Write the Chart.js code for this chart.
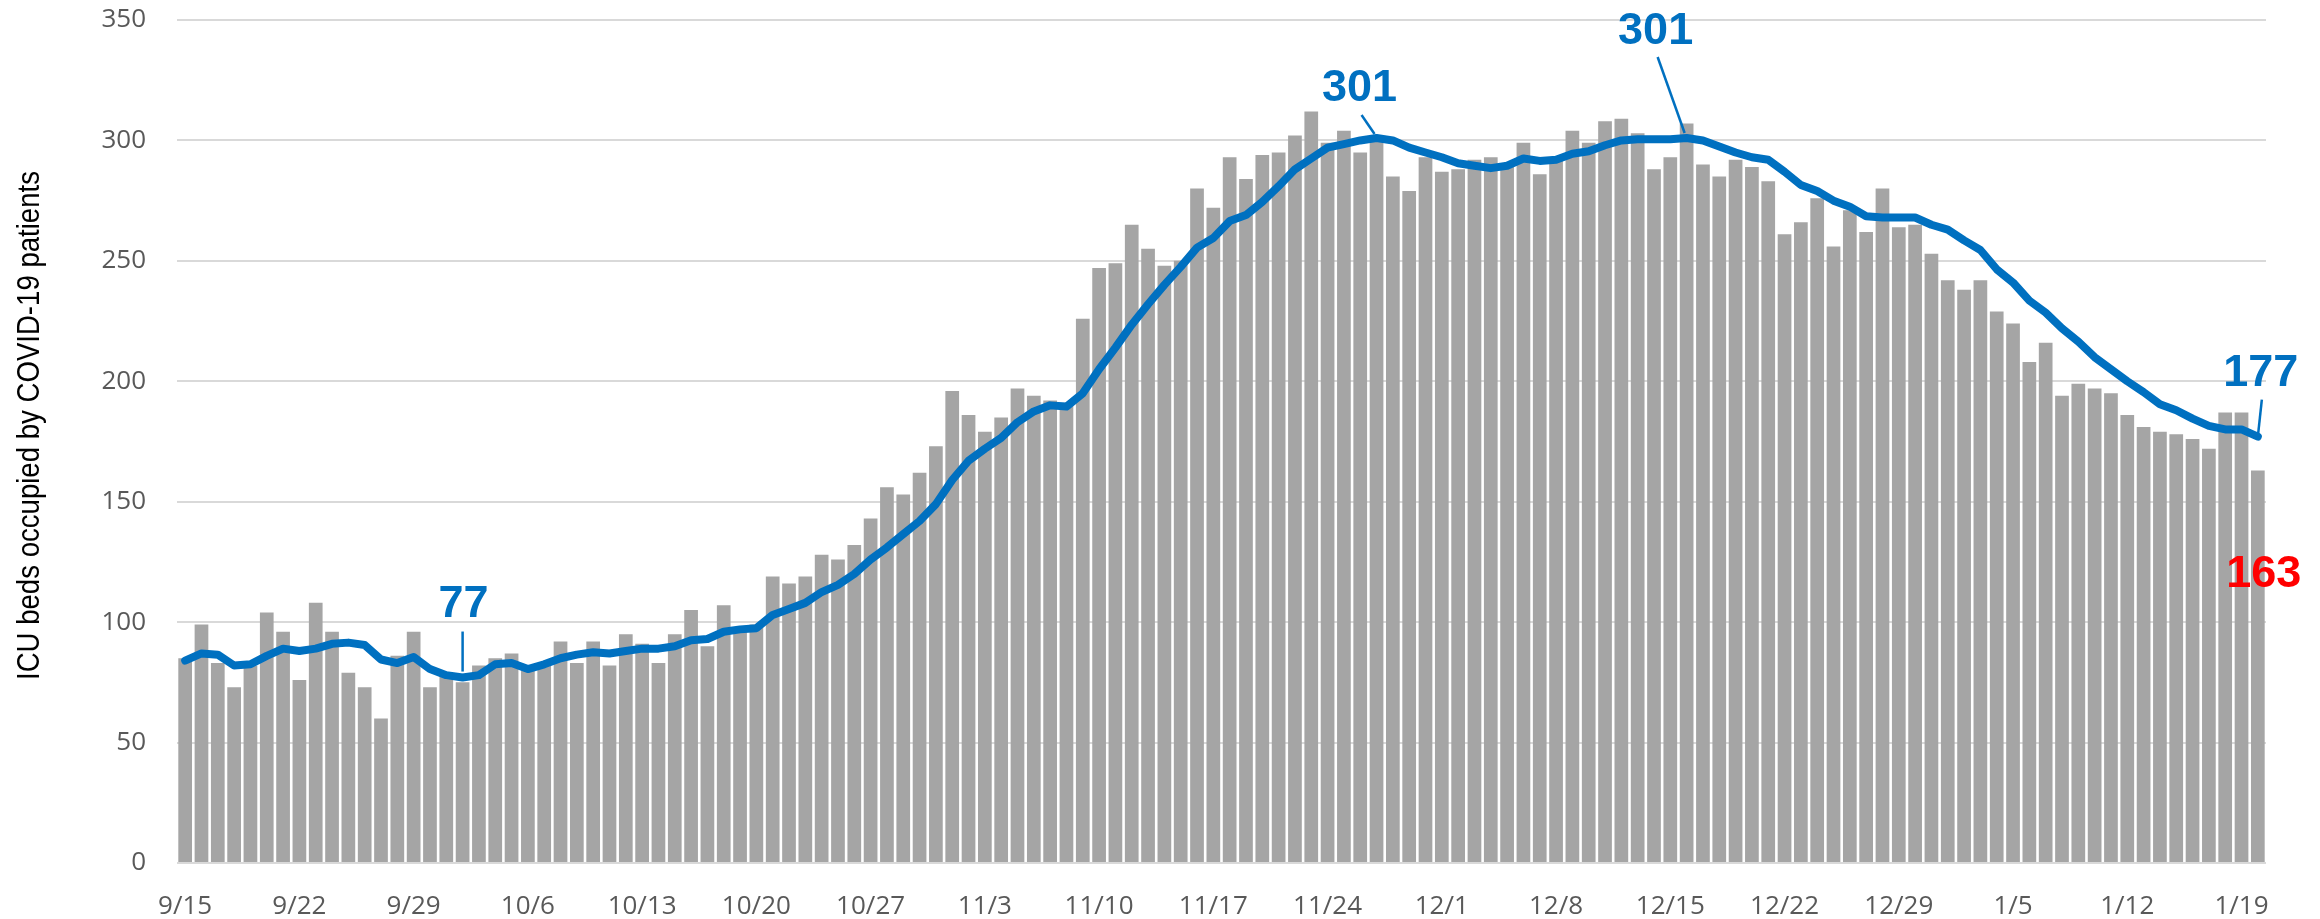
<!DOCTYPE html>
<html>
<head>
<meta charset="utf-8">
<script src="https://cdn.jsdelivr.net/npm/chart.js@4.4.1/dist/chart.umd.min.js"></script>
<style>
  html, body { margin: 0; padding: 0; background: #fff; }
  #wrap { width: 2320px; height: 919px; }
</style>
</head>
<body>
<div id="wrap"><canvas id="icu"></canvas></div>
<script>
// daily ICU census (grey bars) + 7-day average (blue line), 9/15 - 1/20

// one category per day
const DAYS = [];
for (let d = new Date(2020, 8, 15); d <= new Date(2021, 0, 20); d.setDate(d.getDate() + 1)) {
  DAYS.push(`${d.getMonth() + 1}/${d.getDate()}`);
}

const TICK_LABELS = ['9/15', '9/22', '9/29', '10/6', '10/13', '10/20', '10/27', '11/3', '11/10',
  '11/17', '11/24', '12/1', '12/8', '12/15', '12/22', '12/29', '1/5', '1/12', '1/19'];

const Y_TICKS = [0, 50, 100, 150, 200, 250, 300, 350];

const DAILY = [
  85, 99, 83, 73, 82, 104, 96, 76, 108, 96, 79, 73, 60, 86, 96, 73,
  78, 75, 82, 85, 87, 80, 82, 92, 83, 92, 82, 95, 91, 83, 95, 105,
  90, 107, 97, 99, 119, 116, 119, 128, 126, 132, 143, 156, 153, 162, 173,
  196, 186, 179, 185, 197, 194, 192, 190, 226, 247, 249, 265, 255, 248, 250,
  280, 272, 293, 284, 294, 295, 302, 312, 299, 304, 295, 300, 285, 279,
  293, 287, 288, 292, 293, 290, 299, 286, 292, 304, 299, 308, 309, 303, 288,
  293, 307, 290, 285, 292, 289, 283, 261, 266, 276, 256, 271, 262, 280, 264,
  265, 253, 242, 238, 242, 229, 224, 208, 216, 194, 199, 197, 195, 186, 181,
  179, 178, 176, 172, 187, 187, 163
];

const AVG7 = [
  84, 87, 86.5, 82, 82.5, 86, 89, 88, 89, 91, 91.5, 90.5, 84.5, 83, 85.5, 80.5,
  78, 77, 78, 82.5, 83, 80.5, 82.5, 85, 86.5, 87.5, 87, 88, 89, 89, 90, 92.5,
  93, 96, 97, 97.5, 103, 105.5, 108, 112.5, 115.5, 120, 126, 131, 136.5, 142, 149,
  159, 167, 172, 176.5, 183, 187.5, 190, 189.5, 195, 205, 214, 223.5, 232, 240, 247.5,
  255.5, 259.5, 266.5, 269, 274.5, 281, 288, 292.5, 297, 298.5, 300, 301, 300, 297,
  295, 293, 290.5, 289.5, 288.5, 289.5, 292.5, 291.5, 292, 294.5, 295.5, 298, 300, 300.5, 300.5,
  300.5, 301, 300, 297.5, 295, 293, 292, 287, 281.5, 279, 275, 272.5, 268.5, 268, 268,
  268, 265, 263, 258.5, 254.5, 246.5, 241, 233.5, 228.5, 222, 216.5, 210, 205, 200, 195.5,
  190.5, 188, 184.5, 181.5, 180, 180, 177
];

const Y_TITLE = 'ICU beds occupied by COVID-19 patients';

const BAR_GREY = '#A5A5A5';
const BLUE = '#0070C0';
const RED = '#FF0000';

// value callouts: which day / series, text offset from the point, leader line
const CALLOUTS = [
  { day: '10/2', set: 1, color: BLUE, dx: 1, dy: -61, lead: [0, -46, 0, -6] },
  { day: '11/27', set: 1, color: BLUE, dx: -17, dy: -37, lead: [-15, -23, -2, -4] },
  { day: '12/16', set: 1, color: BLUE, dx: -31, dy: -94, lead: [-29, -81, -2, -5] },
  { day: '1/20', set: 1, color: BLUE, dx: 3, dy: -51, lead: [4, -37, 0, 0] },
  { day: '1/20', set: 0, color: RED, dx: 6, dy: 117, lead: null }
];

const calloutPlugin = {
  id: 'callouts',
  afterDatasetsDraw(chart) {
    const { ctx, scales: { x, y } } = chart;
    ctx.save();
    ctx.font = 'bold 45px "Liberation Sans", Arial, sans-serif';
    ctx.textAlign = 'center';
    ctx.textBaseline = 'alphabetic';
    CALLOUTS.forEach(c => {
      const i = DAYS.indexOf(c.day);
      const v = chart.data.datasets[c.set].data[i];
      const px = x.getPixelForValue(i);
      const py = y.getPixelForValue(v);
      ctx.fillStyle = c.color;
      ctx.fillText(String(Math.round(v)), px + c.dx, py + c.dy);
      if (c.lead) {
        ctx.strokeStyle = c.color;
        ctx.lineWidth = 2.5;
        ctx.beginPath();
        ctx.moveTo(px + c.lead[0], py + c.lead[1]);
        ctx.lineTo(px + c.lead[2], py + c.lead[3]);
        ctx.stroke();
      }
    });
    ctx.restore();
  }
};

// rotated y title, condensed like the original
const yTitlePlugin = {
  id: 'yTitle',
  afterDraw(chart) {
    const { ctx, chartArea } = chart;
    ctx.save();
    ctx.translate(30, (chartArea.top + chartArea.bottom) / 2 - 16);
    ctx.rotate(-Math.PI / 2);
    ctx.font = '31px "Liberation Sans Narrow", "Liberation Sans", Arial, sans-serif';
    const w = ctx.measureText(Y_TITLE).width;
    ctx.scale(509 / w, 1);
    ctx.fillStyle = '#000';
    ctx.textAlign = 'center';
    ctx.textBaseline = 'middle';
    ctx.fillText(Y_TITLE, 0, 0);
    ctx.restore();
  }
};

new Chart(document.getElementById('icu'), {
  data: {
    labels: DAYS,
    datasets: [
      {
        type: 'bar',
        data: DAILY,
        backgroundColor: BAR_GREY,
        barPercentage: 0.84,
        categoryPercentage: 1,
        order: 2
      },
      {
        type: 'line',
        data: AVG7,
        borderColor: BLUE,
        borderWidth: 8,
        pointRadius: 0,
        tension: 0,
        borderJoinStyle: 'round',
        borderCapStyle: 'round',
        fill: false,
        order: 1
      }
    ]
  },
  options: {
    responsive: true,
    maintainAspectRatio: false,
    animation: false,
    devicePixelRatio: 1,
    layout: { padding: { top: 20, right: 54, left: 0, bottom: 0 } },
    plugins: { legend: { display: false }, tooltip: { enabled: false } },
    scales: {
      x: {
        offset: true,
        grid: { display: false },
        border: { display: false },
        ticks: {
          autoSkip: false,
          maxRotation: 0,
          minRotation: 0,
          padding: 20,
          color: '#595959',
          font: { family: '"Open Sans", sans-serif', size: 26 },
          callback: (v, i) => TICK_LABELS.includes(DAYS[i]) ? DAYS[i] : ''
        },
        afterFit: s => { s.height = 56; s.paddingLeft = 0; s.paddingRight = 0; }
      },
      y: {
        min: 0,
        max: 350,
        grid: { color: '#D9D9D9', lineWidth: 2, drawTicks: false },
        border: { display: false },
        afterBuildTicks: s => { s.ticks = Y_TICKS.map(v => ({ value: v })); },
        ticks: {
          padding: 31,
          color: '#595959',
          font: { family: '"Open Sans", sans-serif', size: 26 }
        },
        afterFit: s => { s.width = 177; s.paddingTop = 0; s.paddingBottom = 0; }
      }
    }
  },
  plugins: [calloutPlugin, yTitlePlugin]
});
</script>
</body>
</html>
